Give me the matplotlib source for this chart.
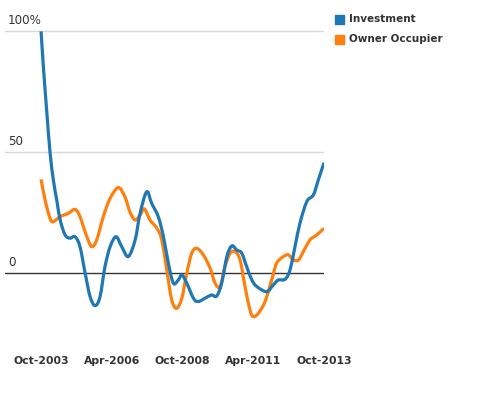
"""Investment vs owner occupier growth, Oct-2003 to Oct-2013"""

import matplotlib

matplotlib.use("Agg")
import matplotlib.patches as mpatches
import matplotlib.pyplot as plt
from matplotlib.path import Path

# months after Oct-2003, values in percent
invest_months = [0, 1, 2.4, 3.8, 5.2, 6.7, 8.1, 10.2, 12.3, 14.4, 16.5, 18.7, 20.8,
                 22.9, 25.0, 27.1, 29.3, 31.8, 34.2, 37.0, 39.9, 42.0, 44.8, 46.9,
                 49.7, 51.9, 54.0, 56.1, 58.2, 59.7, 61.8, 64.6, 66.7, 70.3, 72.4,
                 74.5, 76.6, 78.8, 80.9, 83.0, 85.1, 87.2, 89.4, 91.5, 95.7, 98.5,
                 100.6, 103.5, 105.6, 107.7, 109.8, 112.7, 115.5, 117.6, 120]
invest_values = [100, 85, 67, 50, 38.6, 30, 22, 15.8, 14.5, 15.1, 11, 0, -9.7,
                 -13.4, -9.7, 2.7, 11, 15.1, 11, 6.9, 13.8, 24.8, 33.7, 28.9,
                 23.4, 15.1, 4.1, -4.1, -2.8, -0.7, -4.1, -10.3, -11.7, -9.9, -9.0,
                 -9.4, -4.1, 6.9, 11.3, 9.6, 8.3, 2.7, -2.8, -5.5, -7.6, -4.8,
                 -2.8, -2.5, 1.4, 11, 20.7, 29.6, 32.4, 38.6, 45.7]

owner_months = [0, 1.7, 3.8, 5.2, 8.1, 11.6, 14.4, 16.5, 19.4, 21.5, 23.6, 26.4,
                29.3, 32.8, 35.6, 37.7, 39.9, 42.0, 43.8, 46.2, 49.1, 51.2, 53.3,
                55.4, 57.5, 59.7, 61.8, 63.9, 66.0, 68.8, 71.7, 73.8, 75.9, 78.0,
                80.2, 82.3, 84.4, 86.5, 88.6, 90.0, 92.2, 95.0, 97.8, 99.9, 102.8,
                104.9, 107.0, 109.2, 111.2, 114.1, 116.9, 120]
owner_values = [38.8, 30.3, 22.7, 21.3, 23.4, 24.8, 26.4, 23.4, 15.1, 11, 13.8, 23.4,
                31, 35.4, 31.5, 25.3, 22, 24.1, 26.6, 22, 18.6, 13.8, 1.4,
                -11, -14.5, -10.3, 0, 8.3, 10.3, 7.6, 2.1, -4.1, -5.5, 2.7,
                8.3, 8.9, 5.5, -5.5, -15.2, -17.9, -16.5, -11.7, -2.8, 4.1, 6.9,
                7.6, 5.5, 5.5, 8.9, 13.8, 15.8, 18.6]

tick_months = [0, 30, 60, 90, 120]
tick_labels = ["Oct-2003", "Apr-2006", "Oct-2008", "Apr-2011", "Oct-2013"]

series = ["Investment", "Owner Occupier"]
colors = {"Investment": "#1f77b4", "Owner Occupier": "#ff7f0e"}


def spline_path(xs, ys):
    """Cubic bezier path through the points (catmull-rom style handles)"""
    pts = list(zip(xs, ys))
    verts = [pts[0]]
    codes = [Path.MOVETO]
    n = len(pts)
    for i in range(n - 1):
        p0 = pts[max(i - 1, 0)]
        p1 = pts[i]
        p2 = pts[i + 1]
        p3 = pts[min(i + 2, n - 1)]
        c1 = (p1[0] + (p2[0] - p0[0]) / 6, p1[1] + (p2[1] - p0[1]) / 6)
        c2 = (p2[0] - (p3[0] - p1[0]) / 6, p2[1] - (p3[1] - p1[1]) / 6)
        verts += [c1, c2, p2]
        codes += [Path.CURVE4] * 3
    return Path(verts, codes)


fig = plt.figure(figsize=(4.8, 4.0), dpi=100)
ax = fig.add_axes([5 / 480, 75 / 400, 319 / 480, 305 / 400])

# gridlines and zero line
for v in [50, 100]:
    ax.axhline(v, color="#d8d8d8", lw=1, zorder=1)
ax.axhline(0, color="#333333", lw=1, zorder=1)

for name, xs, ys, z in [("Owner Occupier", owner_months, owner_values, 2),
                        ("Investment", invest_months, invest_values, 3)]:
    ax.add_patch(mpatches.PathPatch(spline_path(xs, ys), fill=False,
                                    edgecolor=colors[name], lw=2.3,
                                    joinstyle="round", capstyle="butt", zorder=z))

ax.set_xlim(-15.3, 120)
ax.set_ylim(-21.4, 104.7)
for s in ax.spines.values():
    s.set_visible(False)
ax.set_yticks([])
ax.set_xticks(tick_months)
ax.set_xticklabels(tick_labels, fontsize=7.8, fontweight="bold", color="#333333")
ax.tick_params(axis="x", length=0, pad=22)

# y labels sit above their gridline
for v, lab in [(100, "100%"), (50, "50"), (0, "0")]:
    ax.annotate(lab, xy=(0, v), xycoords=("axes fraction", "data"),
                xytext=(2, 3), textcoords="offset points",
                fontsize=8.6, color="#333333", ha="left", va="bottom")

# legend
for i, name in enumerate(series):
    top = 15 + 20 * i
    fig.add_artist(mpatches.Rectangle((335 / 480, 1 - (top + 8.5) / 400), 8.5 / 480, 8.5 / 400,
                                      transform=fig.transFigure, color=colors[name]))
    fig.text(349 / 480, 1 - (top + 4.2) / 400, name, fontsize=7.5, fontweight="bold",
             color="#333333", ha="left", va="center")

plt.savefig("out.png", dpi=100)
